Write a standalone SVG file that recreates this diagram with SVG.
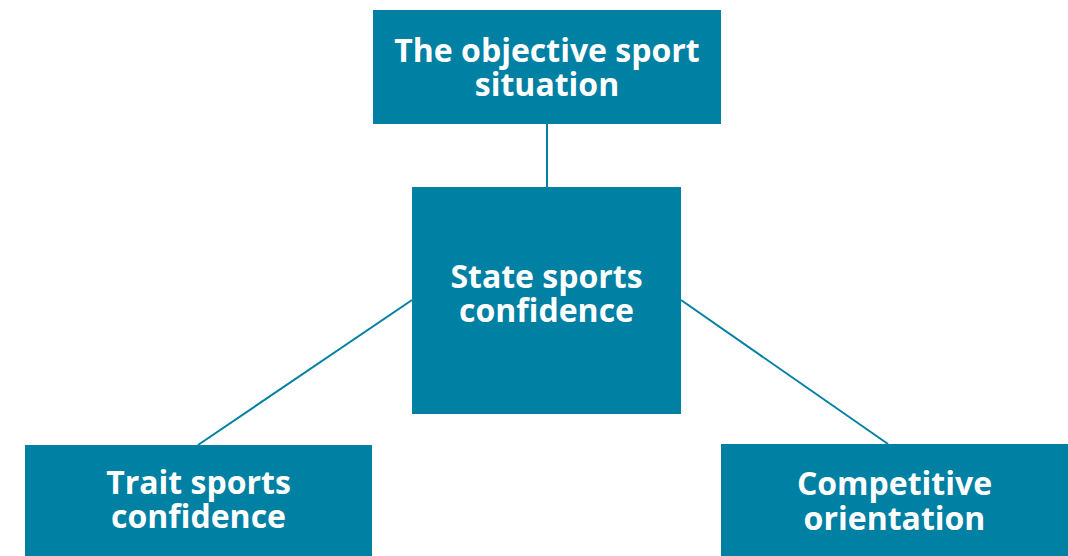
<svg xmlns="http://www.w3.org/2000/svg" width="1068" height="556" viewBox="0 0 1068 556">
<style>
.box{fill:#0080A3}
.t{font-family:"Open Sans",sans-serif;font-weight:700;font-size:32px;fill:#ffffff;text-anchor:middle}
.c{stroke:#0080A3;stroke-width:2;fill:none}
</style>
<rect width="1068" height="556" fill="#ffffff"/>
<g id="connectors">
<line class="c" x1="547" y1="124" x2="547" y2="187"/>
<line class="c" x1="412" y1="300" x2="198" y2="445"/>
<line class="c" x1="681" y1="300" x2="888" y2="444"/>
</g>
<g id="node-top">
<rect class="box" x="373" y="10" width="348" height="114"/>
<text class="t" x="547" y="62">The objective sport</text>
<text class="t" x="547" y="96">situation</text>
</g>
<g id="node-center">
<rect class="box" x="412" y="187" width="269" height="227"/>
<text class="t" x="546.5" y="288">State sports</text>
<text class="t" x="546.5" y="322">confidence</text>
</g>
<g id="node-left">
<rect class="box" x="25" y="445" width="347" height="111"/>
<text class="t" x="198.5" y="494">Trait sports</text>
<text class="t" x="198.5" y="528">confidence</text>
</g>
<g id="node-right">
<rect class="box" x="721" y="444" width="347" height="112"/>
<text class="t" x="894.5" y="495">Competitive</text>
<text class="t" x="894.5" y="530">orientation</text>
</g>
</svg>
